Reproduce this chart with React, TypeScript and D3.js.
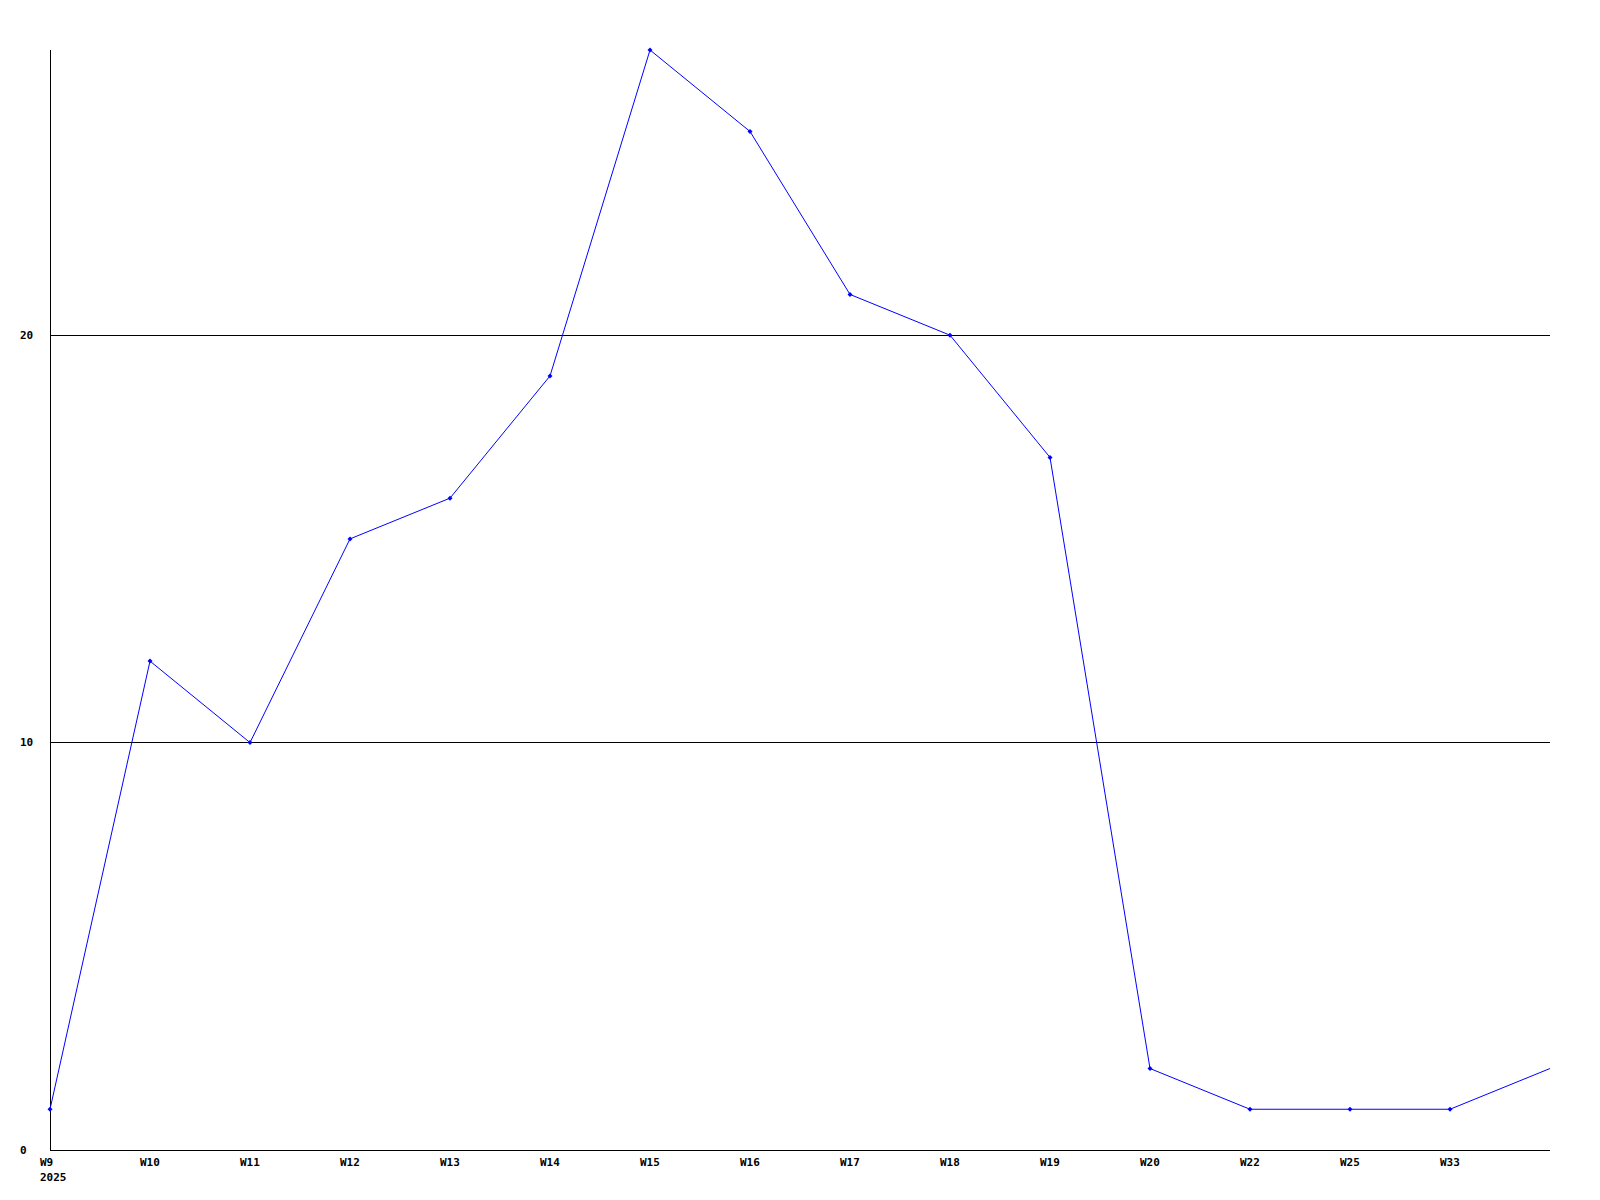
import React from "react";
import * as d3 from "d3";

const weeks = ["W9", "W10", "W11", "W12", "W13", "W14", "W15", "W16", "W17", "W18", "W19", "W20", "W22", "W25", "W33", ""];
const values = [1, 12, 10, 15, 16, 19, 27, 25, 21, 20, 17, 2, 1, 1, 1, 2];
const yTicks = [0, 10, 20];
const yearLabel = "2025";

export default function App() {
  const W = 1600, H = 1200;
  const left = 50, right = 1550, top = 50, bottom = 1150;
  const x = d3.scaleLinear().domain([0, weeks.length - 1]).range([left, right]);
  const y = d3.scaleLinear().domain([0, 27]).range([bottom, top]);
  const line = d3.line<number>().x((_, i) => x(i)).y((d) => y(d));
  const font = "'DejaVu Sans Mono', monospace";
  return (
    <svg width={W} height={H} style={{ position: "absolute", left: 0, top: 0, background: "#fff" }}>
      <rect x={0} y={0} width={W} height={H} fill="#fff" />
      {yTicks.filter((t) => t > 0).map((t) => (
        <line key={t} x1={left} x2={right} y1={Math.floor(y(t)) + 0.5} y2={Math.floor(y(t)) + 0.5} stroke="#000" strokeWidth={1} />
      ))}
      <line x1={left + 0.5} x2={left + 0.5} y1={top} y2={bottom} stroke="#000" strokeWidth={1} />
      <line x1={left} x2={right} y1={bottom + 0.5} y2={bottom + 0.5} stroke="#000" strokeWidth={1} />
      {yTicks.map((t) => (
        <text key={t} x={20} y={y(t)} dy="0.35em" fontFamily={font} fontWeight="bold" fontSize={11} fill="#000">{t}</text>
      ))}
      {weeks.map((w, i) => w ? (
        <text key={i} x={x(i) - 10} y={1166} fontFamily={font} fontWeight="bold" fontSize={11} fill="#000">{w}</text>
      ) : null)}
      <text x={x(0) - 10} y={1181} fontFamily={font} fontWeight="bold" fontSize={11} fill="#000">{yearLabel}</text>
      <path d={line(values) || ""} fill="none" stroke="#0000ff" strokeWidth={1} />
      {values.map((v, i) => weeks[i] ? (
        <path key={i} d={`M${x(i)},${y(v) - 2.5}L${x(i) + 2.5},${y(v)}L${x(i)},${y(v) + 2.5}L${x(i) - 2.5},${y(v)}Z`} fill="#0000ff" />
      ) : null)}
    </svg>
  );
}
